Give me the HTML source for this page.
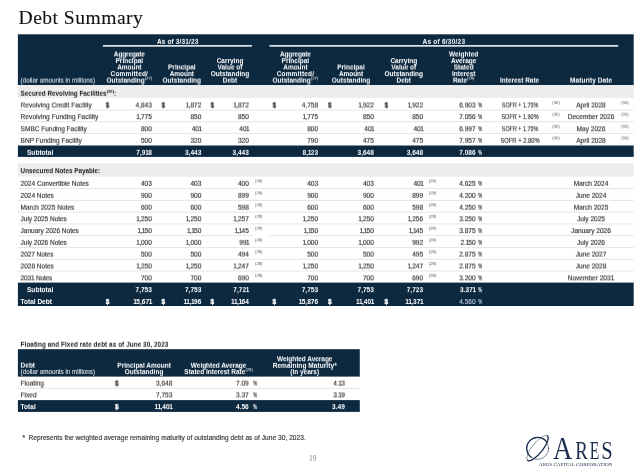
<!DOCTYPE html>
<html><head><meta charset="utf-8"><title>Debt Summary</title>
<style>
html,body{margin:0;padding:0;background:#fff;}
body{width:640px;height:473px;position:relative;overflow:hidden;will-change:transform;font-family:"Liberation Sans",sans-serif;color:#363636;}
svg.bg{position:absolute;left:0;top:0;}
.g{position:absolute;left:0;top:0;width:640px;height:473px;}
.t{position:absolute;white-space:nowrap;font-size:6.55px;line-height:10px;-webkit-text-stroke:0.15px;}
.c{width:300px;text-align:center;}
.title{font-family:"Liberation Serif",serif;font-size:19.6px;line-height:24px;color:#101010;-webkit-text-stroke:0.1px;}
.hb{font-weight:bold;color:#fff;font-size:6.5px;-webkit-text-stroke:0;}
.hn{color:#cdd5de;font-size:6.3px;}
.bd{font-weight:bold;font-size:6.55px;-webkit-text-stroke:0;}
.bl{font-size:6.35px;color:#222;}
.w{color:#fff;}
.dim{color:#b4c2d3;font-weight:normal;}
.sp{font-size:4.2px;color:#4a5360;-webkit-text-stroke:0;}
.dl{-webkit-text-stroke:0.3px !important;}
.pc{transform:scaleX(0.72);transform-origin:0 50%;}
.w.sp{color:#fff;}
.pg{-webkit-text-stroke:0;font-family:"Liberation Serif",serif;font-size:7.6px;color:#858585;}
.num i{font-style:normal;margin:0 -0.85px 0 -0.45px;}
.bd.num i{margin:0 -0.6px 0 -0.25px;}
sup{font-size:4.2px;line-height:0;vertical-align:3.4px;font-weight:normal;}
sup.k{font-weight:bold;}
</style></head>
<body>
<svg class="bg" width="640" height="473" viewBox="0 0 640 473">
<defs>
<filter id="v1" x="0" y="0" width="100%" height="100%" color-interpolation-filters="sRGB"><feOffset dx="0" dy="1" result="o"/><feComposite in="SourceGraphic" in2="o" operator="arithmetic" k1="0" k2="0.875" k3="0.125" k4="0"/></filter>
<filter id="v2" x="0" y="0" width="100%" height="100%" color-interpolation-filters="sRGB"><feOffset dx="0" dy="1" result="o"/><feComposite in="SourceGraphic" in2="o" operator="arithmetic" k1="0" k2="0.750" k3="0.250" k4="0"/></filter>
<filter id="v3" x="0" y="0" width="100%" height="100%" color-interpolation-filters="sRGB"><feOffset dx="0" dy="1" result="o"/><feComposite in="SourceGraphic" in2="o" operator="arithmetic" k1="0" k2="0.625" k3="0.375" k4="0"/></filter>
<filter id="v4" x="0" y="0" width="100%" height="100%" color-interpolation-filters="sRGB"><feOffset dx="0" dy="1" result="o"/><feComposite in="SourceGraphic" in2="o" operator="arithmetic" k1="0" k2="0.500" k3="0.500" k4="0"/></filter>
<filter id="v5" x="0" y="0" width="100%" height="100%" color-interpolation-filters="sRGB"><feOffset dx="0" dy="1" result="o"/><feComposite in="SourceGraphic" in2="o" operator="arithmetic" k1="0" k2="0.375" k3="0.625" k4="0"/></filter>
<filter id="v6" x="0" y="0" width="100%" height="100%" color-interpolation-filters="sRGB"><feOffset dx="0" dy="1" result="o"/><feComposite in="SourceGraphic" in2="o" operator="arithmetic" k1="0" k2="0.250" k3="0.750" k4="0"/></filter>
<filter id="v7" x="0" y="0" width="100%" height="100%" color-interpolation-filters="sRGB"><feOffset dx="0" dy="1" result="o"/><feComposite in="SourceGraphic" in2="o" operator="arithmetic" k1="0" k2="0.125" k3="0.875" k4="0"/></filter>
</defs>
<rect x="17.90" y="34.30" width="615.80" height="50.70" fill="#0d2940"/>
<rect x="102.90" y="45.10" width="149.10" height="1.55" fill="#f4f6f8"/>
<rect x="269.50" y="45.10" width="348.70" height="1.55" fill="#f4f6f8"/>
<rect x="17.90" y="85.00" width="615.80" height="12.90" fill="#ededed"/>
<rect x="17.90" y="109.50" width="615.80" height="1.00" fill="#e5e5e5"/>
<rect x="17.90" y="121.20" width="615.80" height="1.00" fill="#e5e5e5"/>
<rect x="17.90" y="132.90" width="615.80" height="1.00" fill="#e5e5e5"/>
<rect x="17.90" y="145.50" width="615.80" height="11.40" fill="#0d2940"/>
<rect x="17.90" y="163.30" width="615.80" height="13.40" fill="#ededed"/>
<rect x="17.90" y="188.10" width="615.80" height="1.00" fill="#e5e5e5"/>
<rect x="17.90" y="199.90" width="615.80" height="1.00" fill="#e5e5e5"/>
<rect x="17.90" y="211.60" width="615.80" height="1.00" fill="#e5e5e5"/>
<rect x="17.90" y="223.40" width="615.80" height="1.00" fill="#e5e5e5"/>
<rect x="17.90" y="235.10" width="234.10" height="1.00" fill="#e5e5e5"/>
<rect x="269.50" y="235.10" width="364.20" height="1.00" fill="#e5e5e5"/>
<rect x="17.90" y="246.90" width="615.80" height="1.00" fill="#e5e5e5"/>
<rect x="17.90" y="258.80" width="615.80" height="1.00" fill="#e5e5e5"/>
<rect x="17.90" y="270.50" width="615.80" height="1.00" fill="#e5e5e5"/>
<rect x="17.90" y="282.60" width="615.80" height="23.40" fill="#0d2940"/>
<rect x="17.90" y="349.20" width="341.90" height="27.40" fill="#0d2940"/>
<rect x="17.90" y="387.80" width="341.90" height="1.00" fill="#e5e5e5"/>
<rect x="17.90" y="400.10" width="341.90" height="11.80" fill="#0d2940"/>

<g fill="none" stroke="#1a2c4e" stroke-linecap="round">
<circle cx="537.7" cy="448.4" r="11.0" stroke-width="0.55"/>
<path d="M530.93 457.07 A11.0 11.0 0 1 1 546.37 441.63" stroke-width="1.25"/>
<ellipse cx="537.5" cy="448.1" rx="15.8" ry="5.3" transform="rotate(-51 537.5 448.1)" stroke-width="0.45"/>
<path d="M547.44 435.82 A15.8 5.3 -51 0 1 527.56 460.38" stroke-width="1.2"/>
</g>
<g fill="#1a2c4e" font-family="Liberation Serif, serif">
<text x="552.9" y="459.3" font-size="30.5" textLength="19.4" lengthAdjust="spacingAndGlyphs">A</text>
<text x="575.2" y="459.3" font-size="25" textLength="12.6" lengthAdjust="spacingAndGlyphs">R</text>
<text x="589.8" y="459.3" font-size="25" textLength="9.6" lengthAdjust="spacingAndGlyphs">E</text>
<text x="601.3" y="459.3" font-size="25" textLength="11.4" lengthAdjust="spacingAndGlyphs">S</text>
<text x="538.8" y="465.8" font-size="5" textLength="73.6" lengthAdjust="spacingAndGlyphs">ARES CAPITAL CORPORATION</text>
</g>
</svg>
<div class="g">
<div class="t title" style="top:6px;left:18.60px;letter-spacing:0.459px;">Debt Summary</div>
<div class="t sp c" style="top:98px;left:406.10px;">(30)</div>
<div class="t sp c" style="top:98px;left:474.90px;">(30)</div>
<div class="t sp c" style="top:259px;left:108.80px;">(28)</div>
<div class="t sp c" style="top:259px;left:282.50px;">(28)</div>
<div class="t bd w" style="top:297px;left:20.60px;letter-spacing:-0.028px;">Total Debt</div>
<div class="t bd w num" style="top:297px;right:488.10px;"><i>1</i>5,67<i>1</i></div>
<div class="t bd w dl" style="top:297px;left:105.80px;">$</div>
<div class="t bd w num" style="top:297px;right:438.70px;"><i>1</i><i>1</i>,<i>1</i>96</div>
<div class="t bd w dl" style="top:297px;left:161.40px;">$</div>
<div class="t bd w num" style="top:297px;right:391.10px;"><i>1</i><i>1</i>,<i>1</i>64</div>
<div class="t bd w dl" style="top:297px;left:210.40px;">$</div>
<div class="t bd w num" style="top:297px;right:321.90px;"><i>1</i>5,876</div>
<div class="t bd w dl" style="top:297px;left:272.40px;">$</div>
<div class="t bd w num" style="top:297px;right:266.10px;"><i>1</i><i>1</i>,40<i>1</i></div>
<div class="t bd w dl" style="top:297px;left:327.90px;">$</div>
<div class="t bd w num" style="top:297px;right:216.90px;"><i>1</i><i>1</i>,37<i>1</i></div>
<div class="t bd w dl" style="top:297px;left:384.40px;">$</div>
<div class="t w dim num" style="top:297px;right:164.40px;">4.560</div>
<div class="t w dim pc" style="top:297px;left:478.20px;">%</div>
<div class="t hn" style="top:367px;left:20.60px;letter-spacing:-0.018px;">(dollar amounts in millions)</div>
<div class="t" style="top:433px;left:22.40px;">*</div>
<div class="t" style="top:433px;left:28.50px;letter-spacing:0.056px;">Represents the weighted average remaining maturity of outstanding debt as of June 30, 2023.</div>
<div class="t pg c" style="top:454px;left:162.80px;">19</div>
</div>
<div class="g" style="filter:url(#v1)">
<div class="t hb c" style="top:56px;left:-20.70px;letter-spacing:0.015px;">Principal</div>
<div class="t hb c" style="top:69px;left:-20.70px;letter-spacing:0.175px;">Committed/</div>
<div class="t hb c" style="top:69px;left:31.80px;letter-spacing:-0.052px;">Amount</div>
<div class="t hb c" style="top:56px;left:80.00px;">Carrying</div>
<div class="t hb c" style="top:69px;left:80.00px;letter-spacing:0.020px;">Outstanding</div>
<div class="t hb c" style="top:56px;left:145.40px;letter-spacing:0.015px;">Principal</div>
<div class="t hb c" style="top:69px;left:145.40px;letter-spacing:0.175px;">Committed/</div>
<div class="t hb c" style="top:69px;left:201.00px;letter-spacing:-0.052px;">Amount</div>
<div class="t hb c" style="top:56px;left:253.80px;">Carrying</div>
<div class="t hb c" style="top:69px;left:253.80px;letter-spacing:0.020px;">Outstanding</div>
<div class="t hb c" style="top:56px;left:313.70px;">Average</div>
<div class="t hb c" style="top:69px;left:313.70px;">Interest</div>
<div class="t" style="top:112px;left:20.60px;letter-spacing:0.051px;">Revolving Funding Facility</div>
<div class="t num" style="top:112px;right:488.10px;"><i>1</i>,775</div>
<div class="t num" style="top:112px;right:438.70px;">850</div>
<div class="t num" style="top:112px;right:391.10px;">850</div>
<div class="t num" style="top:112px;right:321.90px;"><i>1</i>,775</div>
<div class="t num" style="top:112px;right:266.10px;">850</div>
<div class="t num" style="top:112px;right:216.90px;">850</div>
<div class="t num" style="top:112px;right:164.40px;">7.056</div>
<div class="t pc" style="top:112px;left:478.20px;">%</div>
<div class="t ir c" style="top:112px;left:369.70px;transform:scaleX(0.8390);">SOFR + 1.90%</div>
<div class="t  c" style="top:112px;left:441.00px;">December 2026</div>
<div class="t bd bl" style="top:166px;left:20.60px;letter-spacing:-0.022px;">Unsecured Notes Payable:</div>
<div class="t" style="top:226px;left:20.60px;letter-spacing:-0.020px;">January 2026 Notes</div>
<div class="t num" style="top:226px;right:488.10px;"><i>1</i>,<i>1</i>50</div>
<div class="t num" style="top:226px;right:438.70px;"><i>1</i>,<i>1</i>50</div>
<div class="t num" style="top:226px;right:391.10px;"><i>1</i>,<i>1</i>45</div>
<div class="t num" style="top:226px;right:321.90px;"><i>1</i>,<i>1</i>50</div>
<div class="t num" style="top:226px;right:266.10px;"><i>1</i>,<i>1</i>50</div>
<div class="t num" style="top:226px;right:216.90px;"><i>1</i>,<i>1</i>45</div>
<div class="t num" style="top:226px;right:164.40px;">3.875</div>
<div class="t pc" style="top:226px;left:478.20px;">%</div>
<div class="t  c" style="top:226px;left:441.00px;">January 2026</div>
<div class="t sp c" style="top:247px;left:108.80px;">(28)</div>
<div class="t sp c" style="top:247px;left:282.50px;">(28)</div>
<div class="t bd w" style="top:285px;left:27.00px;letter-spacing:0.008px;">Subtotal</div>
<div class="t bd w num" style="top:285px;right:488.10px;">7,753</div>
<div class="t bd w num" style="top:285px;right:438.70px;">7,753</div>
<div class="t bd w num" style="top:285px;right:391.10px;">7,72<i>1</i></div>
<div class="t bd w num" style="top:285px;right:321.90px;">7,753</div>
<div class="t bd w num" style="top:285px;right:266.10px;">7,753</div>
<div class="t bd w num" style="top:285px;right:216.90px;">7,723</div>
<div class="t bd w num" style="top:285px;right:164.40px;">3.37<i>1</i></div>
<div class="t bd w pc" style="top:285px;left:478.20px;">%</div>
<div class="t hb c" style="top:367px;left:-5.90px;letter-spacing:0.038px;">Outstanding</div>
<div class="t hb c" style="top:367px;left:68.60px;">Stated Interest Rate<sup>(29)</sup></div>
<div class="t hb c" style="top:367px;left:154.70px;letter-spacing:-0.001px;">(in years)</div>
<div class="t bd w" style="top:402px;left:20.60px;">Total</div>
<div class="t bd w dl" style="top:402px;left:115.00px;">$</div>
<div class="t bd w num" style="top:402px;right:467.60px;"><i>1</i><i>1</i>,40<i>1</i></div>
<div class="t bd w num" style="top:402px;right:391.30px;">4.56</div>
<div class="t bd w pc" style="top:402px;left:252.50px;">%</div>
<div class="t bd w num" style="top:402px;right:295.20px;">3.49</div>
</div>
<div class="g" style="filter:url(#v2)">
<div class="t" style="top:124px;left:20.60px;letter-spacing:-0.016px;">SMBC Funding Facility</div>
<div class="t num" style="top:124px;right:488.10px;">800</div>
<div class="t num" style="top:124px;right:438.70px;">40<i>1</i></div>
<div class="t num" style="top:124px;right:391.10px;">40<i>1</i></div>
<div class="t num" style="top:124px;right:321.90px;">800</div>
<div class="t num" style="top:124px;right:266.10px;">40<i>1</i></div>
<div class="t num" style="top:124px;right:216.90px;">40<i>1</i></div>
<div class="t num" style="top:124px;right:164.40px;">6.997</div>
<div class="t pc" style="top:124px;left:478.20px;">%</div>
<div class="t ir c" style="top:124px;left:369.70px;transform:scaleX(0.8232);">SOFR + 1.75%</div>
<div class="t  c" style="top:124px;left:441.00px;">May 2026</div>
<div class="t sp c" style="top:200px;left:108.80px;">(28)</div>
<div class="t sp c" style="top:200px;left:282.50px;">(28)</div>
<div class="t" style="top:214px;left:20.60px;letter-spacing:-0.047px;">July 2025 Notes</div>
<div class="t num" style="top:214px;right:488.10px;"><i>1</i>,250</div>
<div class="t num" style="top:214px;right:438.70px;"><i>1</i>,250</div>
<div class="t num" style="top:214px;right:391.10px;"><i>1</i>,257</div>
<div class="t num" style="top:214px;right:321.90px;"><i>1</i>,250</div>
<div class="t num" style="top:214px;right:266.10px;"><i>1</i>,250</div>
<div class="t num" style="top:214px;right:216.90px;"><i>1</i>,256</div>
<div class="t num" style="top:214px;right:164.40px;">3.250</div>
<div class="t pc" style="top:214px;left:478.20px;">%</div>
<div class="t  c" style="top:214px;left:441.00px;">July 2025</div>
<div class="t hb c" style="top:354px;left:154.70px;letter-spacing:-0.038px;">Weighted Average</div>
</div>
<div class="g" style="filter:url(#v3)">
<div class="t sp c" style="top:133px;left:406.10px;">(30)</div>
<div class="t sp c" style="top:133px;left:474.90px;">(30)</div>
<div class="t sp c" style="top:176px;left:108.80px;">(28)</div>
<div class="t sp c" style="top:176px;left:282.50px;">(28)</div>
<div class="t sp c" style="top:188px;left:108.80px;">(28)</div>
<div class="t sp c" style="top:188px;left:282.50px;">(28)</div>
<div class="t sp c" style="top:235px;left:108.80px;">(28)</div>
<div class="t sp c" style="top:235px;left:282.50px;">(28)</div>
<div class="t" style="top:273px;left:20.60px;letter-spacing:-0.200px;">2031 Notes</div>
<div class="t num" style="top:273px;right:488.10px;">700</div>
<div class="t num" style="top:273px;right:438.70px;">700</div>
<div class="t num" style="top:273px;right:391.10px;">690</div>
<div class="t num" style="top:273px;right:321.90px;">700</div>
<div class="t num" style="top:273px;right:266.10px;">700</div>
<div class="t num" style="top:273px;right:216.90px;">690</div>
<div class="t num" style="top:273px;right:164.40px;">3.200</div>
<div class="t pc" style="top:273px;left:478.20px;">%</div>
<div class="t  c" style="top:273px;left:441.00px;">November 2031</div>
<div class="t" style="top:390px;left:20.60px;">Fixed</div>
<div class="t num" style="top:390px;right:467.60px;">7,753</div>
<div class="t num" style="top:390px;right:391.30px;">3.37</div>
<div class="t pc" style="top:390px;left:252.50px;">%</div>
<div class="t num" style="top:390px;right:295.20px;">3.<i>1</i>9</div>
</div>
<div class="g" style="filter:url(#v4)">
<div class="t hb c" style="top:49px;left:-20.70px;letter-spacing:-0.140px;">Aggregate</div>
<div class="t hb c" style="top:62px;left:-20.70px;letter-spacing:-0.052px;">Amount</div>
<div class="t hb c" style="top:62px;left:31.80px;letter-spacing:0.015px;">Principal</div>
<div class="t hb c" style="top:62px;left:80.00px;">Value of</div>
<div class="t hb c" style="top:49px;left:145.40px;letter-spacing:-0.140px;">Aggregate</div>
<div class="t hb c" style="top:62px;left:145.40px;letter-spacing:-0.052px;">Amount</div>
<div class="t hb c" style="top:62px;left:201.00px;letter-spacing:0.015px;">Principal</div>
<div class="t hb c" style="top:62px;left:253.80px;">Value of</div>
<div class="t hb c" style="top:49px;left:313.70px;letter-spacing:0.007px;">Weighted</div>
<div class="t hb c" style="top:62px;left:313.70px;">Stated</div>
<div class="t" style="top:100px;left:20.60px;letter-spacing:0.041px;">Revolving Credit Facility</div>
<div class="t num" style="top:100px;right:488.10px;">4,843</div>
<div class="t dl" style="top:100px;left:105.80px;">$</div>
<div class="t num" style="top:100px;right:438.70px;"><i>1</i>,872</div>
<div class="t dl" style="top:100px;left:161.40px;">$</div>
<div class="t num" style="top:100px;right:391.10px;"><i>1</i>,872</div>
<div class="t dl" style="top:100px;left:210.40px;">$</div>
<div class="t num" style="top:100px;right:321.90px;">4,758</div>
<div class="t dl" style="top:100px;left:272.40px;">$</div>
<div class="t num" style="top:100px;right:266.10px;"><i>1</i>,922</div>
<div class="t dl" style="top:100px;left:327.90px;">$</div>
<div class="t num" style="top:100px;right:216.90px;"><i>1</i>,922</div>
<div class="t dl" style="top:100px;left:384.40px;">$</div>
<div class="t num" style="top:100px;right:164.40px;">6.903</div>
<div class="t pc" style="top:100px;left:478.20px;">%</div>
<div class="t ir c" style="top:100px;left:369.70px;transform:scaleX(0.8232);">SOFR + 1.75%</div>
<div class="t  c" style="top:100px;left:441.00px;">April 2028</div>
<div class="t" style="top:261px;left:20.60px;letter-spacing:-0.025px;">2028 Notes</div>
<div class="t num" style="top:261px;right:488.10px;"><i>1</i>,250</div>
<div class="t num" style="top:261px;right:438.70px;"><i>1</i>,250</div>
<div class="t num" style="top:261px;right:391.10px;"><i>1</i>,247</div>
<div class="t num" style="top:261px;right:321.90px;"><i>1</i>,250</div>
<div class="t num" style="top:261px;right:266.10px;"><i>1</i>,250</div>
<div class="t num" style="top:261px;right:216.90px;"><i>1</i>,247</div>
<div class="t num" style="top:261px;right:164.40px;">2.875</div>
<div class="t pc" style="top:261px;left:478.20px;">%</div>
<div class="t  c" style="top:261px;left:441.00px;">June 2028</div>
</div>
<div class="g" style="filter:url(#v5)">
<div class="t hb c" style="top:75px;left:-20.70px;">Outstanding<sup>(27)</sup></div>
<div class="t hb c" style="top:75px;left:31.80px;letter-spacing:0.020px;">Outstanding</div>
<div class="t hb c" style="top:75px;left:80.00px;">Debt</div>
<div class="t hb c" style="top:75px;left:145.40px;">Outstanding<sup>(27)</sup></div>
<div class="t hb c" style="top:75px;left:201.00px;letter-spacing:0.020px;">Outstanding</div>
<div class="t hb c" style="top:75px;left:253.80px;">Debt</div>
<div class="t hb c" style="top:75px;left:313.70px;">Rate<sup>(29)</sup></div>
<div class="t hb c" style="top:75px;left:369.60px;letter-spacing:-0.013px;">Interest Rate</div>
<div class="t hb c" style="top:75px;left:441.10px;letter-spacing:0.086px;">Maturity Date</div>
<div class="t hn" style="top:75px;left:20.60px;letter-spacing:-0.018px;">(dollar amounts in millions)</div>
<div class="t sp c" style="top:109px;left:406.10px;">(30)</div>
<div class="t sp c" style="top:109px;left:474.90px;">(30)</div>
<div class="t sp c" style="top:223px;left:108.80px;">(28)</div>
<div class="t sp c" style="top:223px;left:282.50px;">(28)</div>
<div class="t" style="top:249px;left:20.60px;letter-spacing:-0.075px;">2027 Notes</div>
<div class="t num" style="top:249px;right:488.10px;">500</div>
<div class="t num" style="top:249px;right:438.70px;">500</div>
<div class="t num" style="top:249px;right:391.10px;">494</div>
<div class="t num" style="top:249px;right:321.90px;">500</div>
<div class="t num" style="top:249px;right:266.10px;">500</div>
<div class="t num" style="top:249px;right:216.90px;">495</div>
<div class="t num" style="top:249px;right:164.40px;">2.875</div>
<div class="t pc" style="top:249px;left:478.20px;">%</div>
<div class="t  c" style="top:249px;left:441.00px;">June 2027</div>
<div class="t hb" style="top:360px;left:20.60px;">Debt</div>
<div class="t" style="top:378px;left:20.60px;">Floating</div>
<div class="t dl" style="top:378px;left:115.00px;">$</div>
<div class="t num" style="top:378px;right:467.60px;">3,648</div>
<div class="t num" style="top:378px;right:391.30px;">7.09</div>
<div class="t pc" style="top:378px;left:252.50px;">%</div>
<div class="t num" style="top:378px;right:295.20px;">4.<i>1</i>3</div>
</div>
<div class="g" style="filter:url(#v6)">
<div class="t bd bl" style="top:88px;left:20.60px;">Secured Revolving Facilities<sup class="k">(26)</sup>:</div>
<div class="t sp c" style="top:121px;left:406.10px;">(30)</div>
<div class="t sp c" style="top:121px;left:474.90px;">(30)</div>
<div class="t" style="top:202px;left:20.60px;letter-spacing:0.016px;">March 2025 Notes</div>
<div class="t num" style="top:202px;right:488.10px;">600</div>
<div class="t num" style="top:202px;right:438.70px;">600</div>
<div class="t num" style="top:202px;right:391.10px;">598</div>
<div class="t num" style="top:202px;right:321.90px;">600</div>
<div class="t num" style="top:202px;right:266.10px;">600</div>
<div class="t num" style="top:202px;right:216.90px;">598</div>
<div class="t num" style="top:202px;right:164.40px;">4.250</div>
<div class="t pc" style="top:202px;left:478.20px;">%</div>
<div class="t  c" style="top:202px;left:441.00px;">March 2025</div>
<div class="t sp c" style="top:211px;left:108.80px;">(28)</div>
<div class="t sp c" style="top:211px;left:282.50px;">(28)</div>
<div class="t bd bl" style="top:339px;left:20.60px;letter-spacing:0.075px;">Floating and Fixed rate debt as of June 30, 2023</div>
<div class="t hb c" style="top:360px;left:-5.90px;letter-spacing:0.001px;">Principal Amount</div>
<div class="t hb c" style="top:360px;left:68.60px;letter-spacing:-0.038px;">Weighted Average</div>
</div>
<div class="g" style="filter:url(#v7)">
<div class="t hb c" style="top:36px;left:27.70px;letter-spacing:0.142px;">As of 3/31/23</div>
<div class="t hb c" style="top:36px;left:293.90px;letter-spacing:0.231px;">As of 6/30/23</div>
<div class="t" style="top:135px;left:20.60px;letter-spacing:0.012px;">BNP Funding Facility</div>
<div class="t num" style="top:135px;right:488.10px;">500</div>
<div class="t num" style="top:135px;right:438.70px;">320</div>
<div class="t num" style="top:135px;right:391.10px;">320</div>
<div class="t num" style="top:135px;right:321.90px;">790</div>
<div class="t num" style="top:135px;right:266.10px;">475</div>
<div class="t num" style="top:135px;right:216.90px;">475</div>
<div class="t num" style="top:135px;right:164.40px;">7.957</div>
<div class="t pc" style="top:135px;left:478.20px;">%</div>
<div class="t ir c" style="top:135px;left:369.70px;transform:scaleX(0.8842);">SOFR + 2.80%</div>
<div class="t  c" style="top:135px;left:441.00px;">April 2028</div>
<div class="t bd w" style="top:147px;left:27.00px;letter-spacing:0.008px;">Subtotal</div>
<div class="t bd w num" style="top:147px;right:488.10px;">7,9<i>1</i>8</div>
<div class="t bd w num" style="top:147px;right:438.70px;">3,443</div>
<div class="t bd w num" style="top:147px;right:391.10px;">3,443</div>
<div class="t bd w num" style="top:147px;right:321.90px;">8,<i>1</i>23</div>
<div class="t bd w num" style="top:147px;right:266.10px;">3,648</div>
<div class="t bd w num" style="top:147px;right:216.90px;">3,648</div>
<div class="t bd w num" style="top:147px;right:164.40px;">7.086</div>
<div class="t bd w pc" style="top:147px;left:478.20px;">%</div>
<div class="t" style="top:178px;left:20.60px;letter-spacing:-0.006px;">2024 Convertible Notes</div>
<div class="t num" style="top:178px;right:488.10px;">403</div>
<div class="t num" style="top:178px;right:438.70px;">403</div>
<div class="t num" style="top:178px;right:391.10px;">400</div>
<div class="t num" style="top:178px;right:321.90px;">403</div>
<div class="t num" style="top:178px;right:266.10px;">403</div>
<div class="t num" style="top:178px;right:216.90px;">40<i>1</i></div>
<div class="t num" style="top:178px;right:164.40px;">4.625</div>
<div class="t pc" style="top:178px;left:478.20px;">%</div>
<div class="t  c" style="top:178px;left:441.00px;">March 2024</div>
<div class="t" style="top:190px;left:20.60px;letter-spacing:-0.025px;">2024 Notes</div>
<div class="t num" style="top:190px;right:488.10px;">900</div>
<div class="t num" style="top:190px;right:438.70px;">900</div>
<div class="t num" style="top:190px;right:391.10px;">899</div>
<div class="t num" style="top:190px;right:321.90px;">900</div>
<div class="t num" style="top:190px;right:266.10px;">900</div>
<div class="t num" style="top:190px;right:216.90px;">899</div>
<div class="t num" style="top:190px;right:164.40px;">4.200</div>
<div class="t pc" style="top:190px;left:478.20px;">%</div>
<div class="t  c" style="top:190px;left:441.00px;">June 2024</div>
<div class="t" style="top:237px;left:20.60px;letter-spacing:-0.047px;">July 2026 Notes</div>
<div class="t num" style="top:237px;right:488.10px;"><i>1</i>,000</div>
<div class="t num" style="top:237px;right:438.70px;"><i>1</i>,000</div>
<div class="t num" style="top:237px;right:391.10px;">99<i>1</i></div>
<div class="t num" style="top:237px;right:321.90px;"><i>1</i>,000</div>
<div class="t num" style="top:237px;right:266.10px;"><i>1</i>,000</div>
<div class="t num" style="top:237px;right:216.90px;">992</div>
<div class="t num" style="top:237px;right:164.40px;">2.<i>1</i>50</div>
<div class="t pc" style="top:237px;left:478.20px;">%</div>
<div class="t  c" style="top:237px;left:441.00px;">July 2026</div>
<div class="t sp c" style="top:270px;left:108.80px;">(28)</div>
<div class="t sp c" style="top:270px;left:282.50px;">(28)</div>
<div class="t hb c" style="top:360px;left:154.70px;letter-spacing:0.066px;">Remaining Maturity*</div>
</div>
</body></html>
